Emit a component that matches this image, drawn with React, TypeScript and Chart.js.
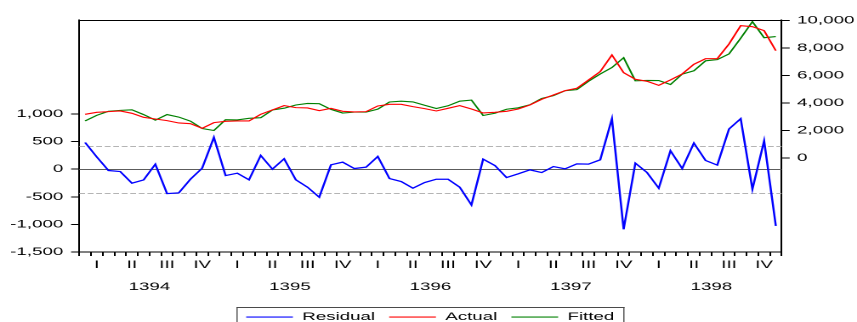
import { useEffect, useRef } from 'react';
import { Chart, registerables } from 'chart.js';

Chart.register(...registerables);

// Monthly sample 1394M01 – 1398M12
const years = ['1394', '1395', '1396', '1397', '1398'];
const quarterNames = ['I', 'II', 'III', 'IV'];
const months = years.flatMap((y) =>
  Array.from({ length: 12 }, (_, m) => `${y}M${String(m + 1).padStart(2, '0')}`)
);

const residual = [
  483, 220, -25, -43, -255, -195, 90, -443, -430, -182, 18, 574,
  -116, -73, -194, 247, 0, 187, -194, -327, -508, 78, 127, 11,
  36, 229, -170, -225, -345, -243, -182, -182, -327, -648, 181, 66,
  -152, -85, -13, -62, 47, 5, 96, 91, 169, 913, -1089, 109,
  -62, -345, 332, 11, 472, 156, 73, 726, 913, -363, 514, -1029,
];

const actual = [
  3180, 3326, 3375, 3423, 3253, 2962, 2840, 2719, 2549, 2500, 2161, 2573,
  2671, 2695, 2695, 3180, 3496, 3811, 3666, 3642, 3447, 3617, 3399, 3350,
  3375, 3787, 3909, 3909, 3739, 3593, 3423, 3617, 3811, 3569, 3277, 3326,
  3399, 3569, 3860, 4273, 4588, 4904, 5074, 5681, 6288, 7502, 6215, 5730,
  5584, 5293, 5681, 6118, 6822, 7235, 7235, 8303, 9638, 9565, 9274, 7817,
];

const fitted = [
  2697, 3106, 3400, 3466, 3508, 3157, 2750, 3162, 2979, 2682, 2143, 1999,
  2787, 2768, 2889, 2933, 3496, 3624, 3860, 3969, 3955, 3539, 3272, 3339,
  3339, 3558, 4079, 4134, 4084, 3836, 3605, 3799, 4138, 4217, 3096, 3260,
  3551, 3654, 3873, 4335, 4541, 4899, 4978, 5590, 6119, 6589, 7304, 5621,
  5646, 5638, 5349, 6107, 6350, 7079, 7162, 7577, 8725, 9928, 8760, 8846,
];

// Standard error band drawn around the zero residual line
const residualSE = 428;

const leftTicks = [-1500, -1000, -500, 0, 500, 1000];
const rightTicks = [0, 2000, 4000, 6000, 8000, 10000];

const seriesNames = ['Residual', 'Actual', 'Fitted'];
const seriesColors = ['#0000ff', '#ff0000', '#008000'];

// The graph is laid out on a narrower canvas and stretched horizontally
const CANVAS_W = 504;
const CANVAS_H = 322;
const STRETCH = 857 / CANVAS_W;

const FONT_FAMILY = '"Liberation Sans", Arial, Helvetica, sans-serif';
const tickFont = { family: FONT_FAMILY, size: 11 };
const fmt = (v: number | string) => Number(v).toLocaleString('en-US');

const framePlugin = {
  id: 'frameAndGuides',
  beforeDatasetsDraw(chart: any) {
    const { ctx, chartArea: ca, scales } = chart;
    const y = scales.y;
    ctx.save();
    ctx.beginPath();
    ctx.rect(ca.left, ca.top, ca.right - ca.left, ca.bottom - ca.top);
    ctx.clip();
    ctx.lineWidth = 1;
    ctx.strokeStyle = '#b4b4b4';
    ctx.setLineDash([3.4, 1.6]);
    for (const v of [residualSE, -residualSE]) {
      const py = Math.round(y.getPixelForValue(v)) + 0.5;
      ctx.beginPath();
      ctx.moveTo(ca.left, py);
      ctx.lineTo(ca.right, py);
      ctx.stroke();
    }
    ctx.setLineDash([]);
    ctx.strokeStyle = '#5c5c5c';
    const zy = Math.round(y.getPixelForValue(0)) + 0.5;
    ctx.beginPath();
    ctx.moveTo(ca.left, zy);
    ctx.lineTo(ca.right, zy);
    ctx.stroke();
    ctx.restore();
  },
  afterDraw(chart: any) {
    const { ctx, chartArea: ca } = chart;
    ctx.save();
    ctx.setLineDash([]);
    // top edge of the frame
    ctx.fillStyle = '#000';
    ctx.fillRect(ca.left, ca.top, ca.right - ca.left, 1);

    // legend box, centred under the plot area
    ctx.font = `11px ${FONT_FAMILY}`;
    const items = seriesNames.map((label, i) => ({
      label,
      color: seriesColors[i],
      w: ctx.measureText(label).width,
    }));
    const padL = 5.7;
    const padR = 6;
    const lineLen = 27.5;
    const textGap = 5.5;
    const itemGap = 8.3;
    let total = padL + padR + itemGap * (items.length - 1);
    for (const it of items) total += lineLen + textGap + it.w;
    const boxLeft = (ca.left + ca.right) / 2 - total / 2;
    const boxTop = Math.round(chart.height - 15);
    ctx.fillStyle = '#4a4a4a';
    ctx.fillRect(boxLeft, boxTop, total, 1);
    ctx.fillRect(boxLeft, boxTop, 0.7, 20);
    ctx.fillRect(boxLeft + total - 0.7, boxTop, 0.7, 20);
    let x = boxLeft + padL;
    const lineY = boxTop + 9.5;
    for (const it of items) {
      ctx.fillStyle = it.color;
      ctx.fillRect(x, lineY, lineLen, 1.1);
      x += lineLen + textGap;
      ctx.fillStyle = '#000';
      ctx.textAlign = 'left';
      ctx.textBaseline = 'alphabetic';
      ctx.fillText(it.label, x, boxTop + 12.9);
      x += it.w + itemGap;
    }
    ctx.restore();
  },
};

export default function App() {
  const ref = useRef<HTMLCanvasElement>(null);

  useEffect(() => {
    const canvas = ref.current;
    if (!canvas) return;
    const series = [residual, actual, fitted];
    const chart = new Chart(canvas, {
      type: 'line',
      data: {
        labels: months,
        datasets: series.map((data, i) => ({
          label: seriesNames[i],
          data,
          yAxisID: i === 0 ? 'y' : 'y1',
          borderColor: seriesColors[i],
          borderWidth: i === 0 ? 1.25 : 1.1,
          pointRadius: 0,
          tension: 0,
        })),
      },
      options: {
        animation: false,
        responsive: false,
        devicePixelRatio: 2,
        layout: { padding: { top: 20, left: 0, right: 0, bottom: 0 } },
        plugins: { legend: { display: false }, tooltip: { enabled: false } },
        scales: {
          x: {
            type: 'category',
            position: 'bottom',
            offset: true,
            grid: {
              offset: true,
              drawOnChartArea: false,
              tickLength: 4,
              color: '#000',
              lineWidth: 1,
            },
            border: { color: '#000', width: 1 },
            ticks: {
              autoSkip: false,
              maxRotation: 0,
              minRotation: 0,
              padding: 2.4,
              color: '#000',
              font: tickFont,
              callback: (_v: any, i: number) =>
                i % 3 === 1 ? quarterNames[Math.floor(i / 3) % 4] : '',
            },
            afterFit: (s: any) => {
              s.height = 22;
            },
          },
          x2: {
            type: 'category',
            position: 'bottom',
            labels: years,
            offset: true,
            grid: { display: false, drawTicks: false },
            border: { display: false },
            ticks: {
              autoSkip: false,
              maxRotation: 0,
              minRotation: 0,
              padding: 6.4,
              color: '#000',
              font: tickFont,
            },
            afterFit: (s: any) => {
              s.height = 48;
            },
          },
          y: {
            type: 'linear',
            position: 'left',
            min: -1500,
            max: 2700,
            grid: { drawOnChartArea: false, tickLength: 4.8, color: '#000' },
            border: { color: '#000', width: 1 },
            ticks: { padding: 4.6, color: '#000', font: tickFont, callback: fmt },
            afterBuildTicks: (axis: any) => {
              axis.ticks = leftTicks.map((value) => ({ value }));
            },
            afterFit: (s: any) => {
              s.width = 46.6;
            },
          },
          y1: {
            type: 'linear',
            position: 'right',
            min: -6850,
            max: 10050,
            grid: { drawOnChartArea: false, tickLength: 4.7, color: '#000' },
            border: { color: '#000', width: 1 },
            ticks: { padding: 4.4, color: '#000', font: tickFont, callback: fmt },
            afterBuildTicks: (axis: any) => {
              axis.ticks = rightTicks.map((value) => ({ value }));
            },
            afterFit: (s: any) => {
              s.width = CANVAS_W - 459.7;
            },
          },
        },
      } as any,
      plugins: [framePlugin],
    });
    return () => chart.destroy();
  }, []);

  return (
    <div
      style={{
        position: 'absolute',
        left: 0,
        top: 0,
        width: CANVAS_W,
        height: CANVAS_H,
        overflow: 'visible',
        transform: `scaleX(${STRETCH})`,
        transformOrigin: '0 0',
      }}
    >
      <canvas
        ref={ref}
        width={CANVAS_W}
        height={CANVAS_H}
        style={{ display: 'block', width: CANVAS_W, height: CANVAS_H }}
      />
    </div>
  );
}
